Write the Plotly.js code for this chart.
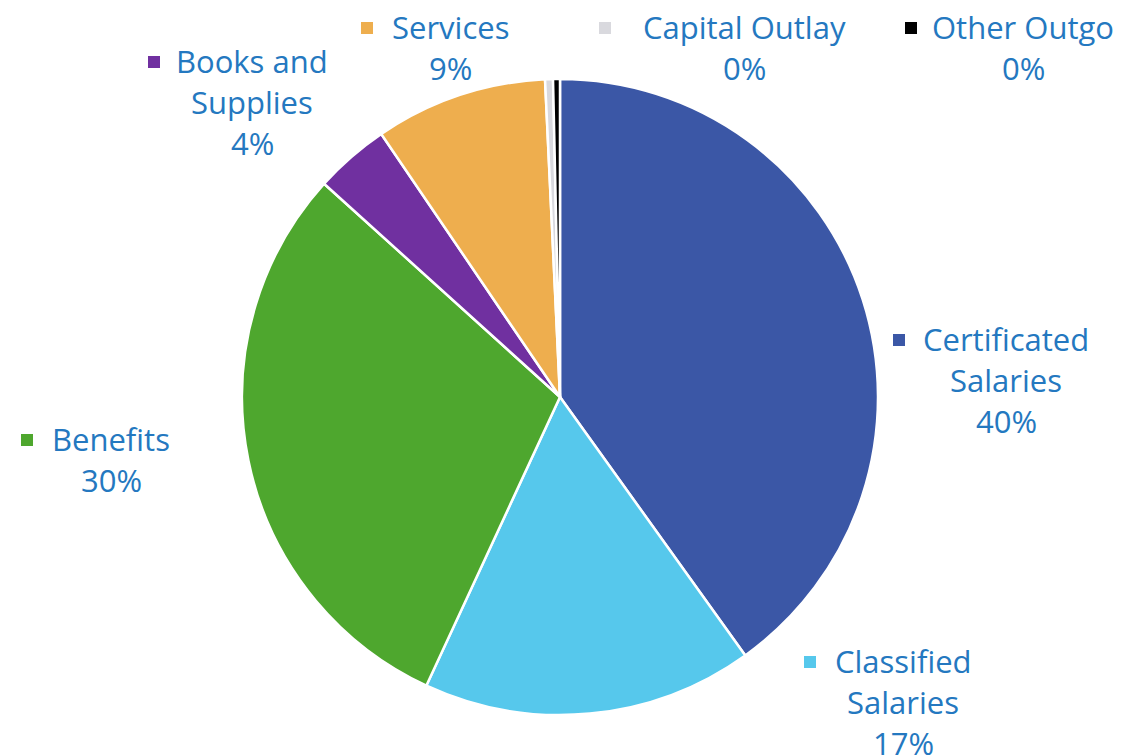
<!DOCTYPE html>
<html>
<head>
<meta charset="utf-8">
<script src="https://cdn.plot.ly/plotly-3.0.1.min.js"></script>
<style>html,body{margin:0;padding:0;background:#fff;}#chart{width:1136px;height:756px;}</style>
</head>
<body>
<div id="chart"></div>
<script>
// ---- data ----
const categories = ["Certificated Salaries", "Classified Salaries", "Benefits", "Books and Supplies", "Services", "Capital Outlay", "Other Outgo"];
const labelLines = [["Certificated", "Salaries"], ["Classified", "Salaries"], ["Benefits"], ["Books and", "Supplies"], ["Services"], ["Capital Outlay"], ["Other Outgo"]];
const values = [40.1, 16.8, 29.8, 3.8, 8.75, 0.4, 0.35];
const colors = ["#3B57A6", "#56C8EC", "#4EA72E", "#7030A0", "#EEAE4E", "#D9D9DE", "#000000"];

// ---- label layout (pixel positions: text block centre x, first-line y, key square x) ----
const W = 1136, H = 756;
const labelPos = [
  {x: 1006, y: 339, kx: 899}, {x: 903, y: 661, kx: 810}, {x: 111, y: 439, kx: 27}, {x: 252, y: 61, kx: 154},
  {x: 450, y: 27, kx: 367}, {x: 744, y: 27, kx: 605}, {x: 1023, y: 27, kx: 911}
];
const lineGap = 41;
const textColor = "#2478C0";
const fontFam = "'Open Sans', sans-serif";
const fontSize = 31;

const total = values.reduce((a, b) => a + b, 0);
const annotations = [];
const shapes = [];
categories.forEach((c, i) => {
  const lines = labelLines[i].concat([Math.round(values[i] / total * 100) + "%"]);
  const p = labelPos[i];
  lines.forEach((t, k) => {
    annotations.push({
      xref: "paper", yref: "paper",
      x: p.x / W, y: 1 - (p.y + k * lineGap) / H,
      xanchor: "center", yanchor: "middle",
      text: t, showarrow: false,
      font: {family: fontFam, size: fontSize, color: textColor}
    });
  });
  const s = 12, sy = p.y + 1;
  shapes.push({
    type: "rect", xref: "paper", yref: "paper",
    x0: (p.kx - s / 2) / W, x1: (p.kx + s / 2) / W,
    y0: 1 - (sy + s / 2) / H, y1: 1 - (sy - s / 2) / H,
    fillcolor: colors[i], line: {width: 0}
  });
});

const trace = {
  type: "pie",
  labels: categories,
  values: values,
  sort: false,
  direction: "clockwise",
  rotation: 0,
  textinfo: "none",
  hoverinfo: "skip",
  marker: {colors: colors, line: {color: "#FFFFFF", width: 2.5}},
  domain: {x: [242 / W, 878 / W], y: [(H - 715) / H, (H - 79) / H]},
  showlegend: false
};

const layout = {
  width: W, height: H,
  margin: {l: 0, r: 0, t: 0, b: 0},
  paper_bgcolor: "#FFFFFF",
  showlegend: false,
  annotations: annotations,
  shapes: shapes
};

Plotly.newPlot("chart", [trace], layout, {displayModeBar: false, staticPlot: true});
</script>
</body>
</html>
